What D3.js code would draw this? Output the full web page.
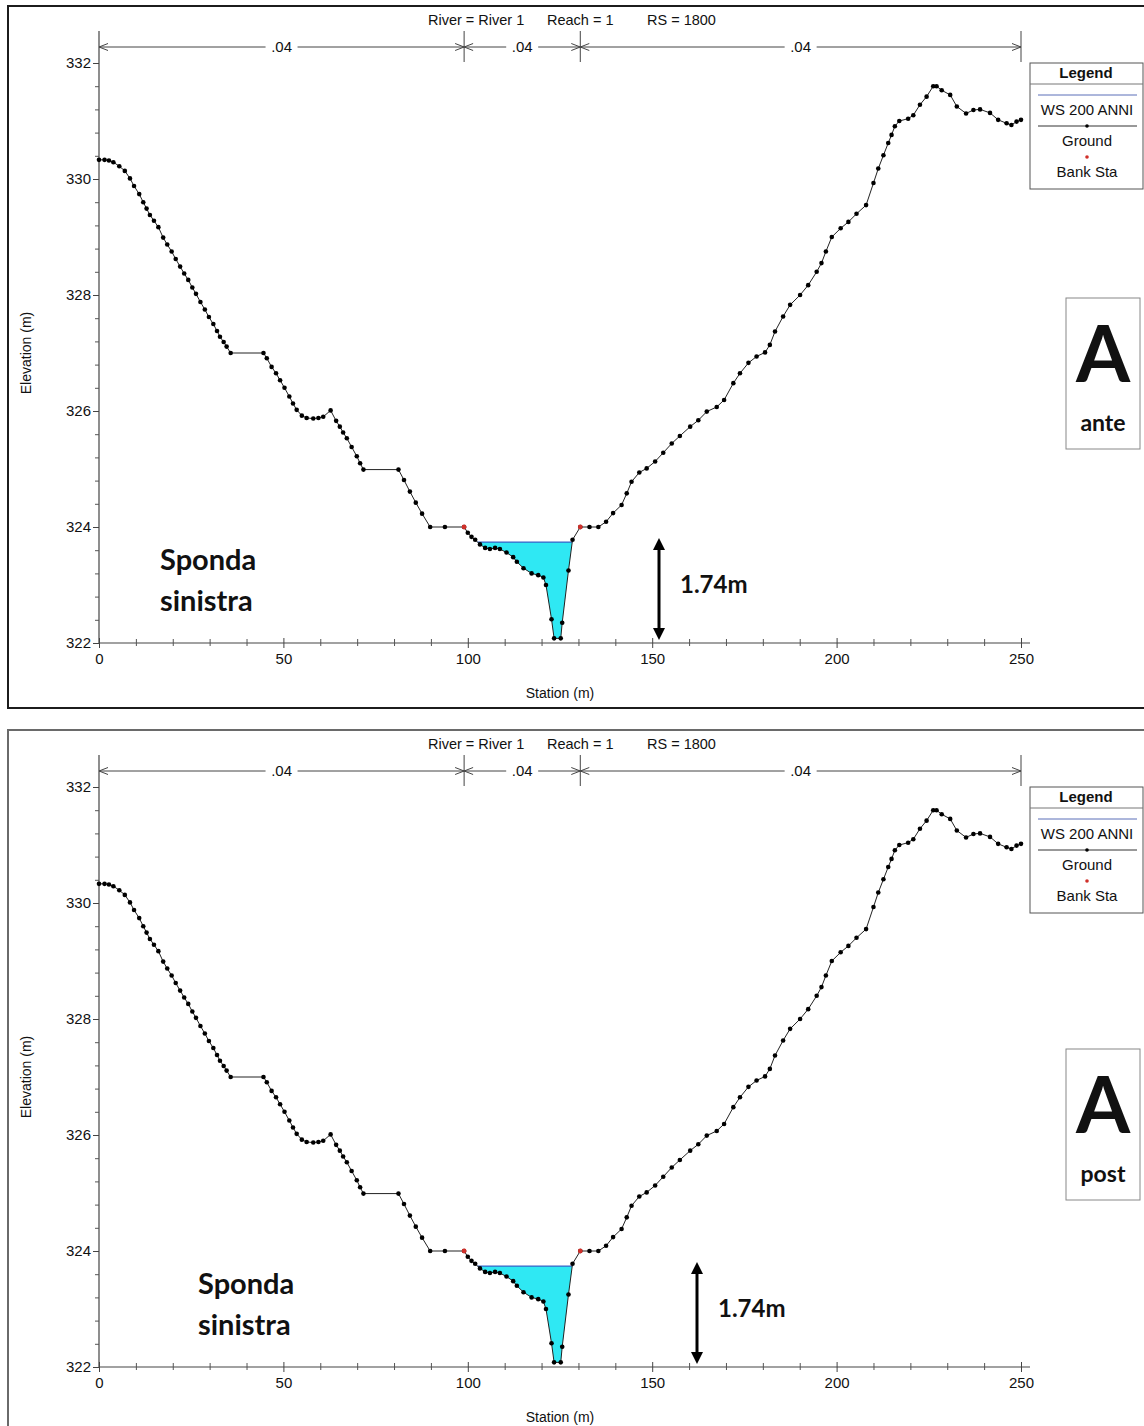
<!DOCTYPE html>
<html>
<head>
<meta charset="utf-8">
<script src="https://cdn.jsdelivr.net/npm/d3@7"></script>
<style>
  body { margin: 0; background: #fff; }
  svg { display: block; }
  text { font-family: "Liberation Sans", Arial, sans-serif; fill: #111; }
  .big { font-family: Lato, "Open Sans", sans-serif; font-weight: 700; }
</style>
</head>
<body>
<script>
// ground profile (station m, elevation m)
const groundStation = [0,1.5,2.7,3.9,5.5,7.0,8.4,9.5,10.9,12.0,12.9,13.8,14.9,16.1,17.4,18.5,19.7,20.8,22.0,23.1,
  24.2,25.3,26.3,27.5,28.7,29.8,31.0,32.0,32.8,33.8,34.6,35.7,44.6,45.5,46.8,48.0,49.1,50.3,51.6,52.6,
  53.6,55.0,56.3,58.1,59.5,60.8,62.8,64.3,65.3,66.2,67.2,68.5,69.9,70.8,71.7,81.2,82.7,84.3,85.9,87.6,
  89.8,93.8,99.0,100.0,101.0,102.0,103.3,104.7,106.0,107.4,108.7,110.5,112.3,113.3,115.1,117.3,119.1,120.5,121.2,122.7,
  123.4,125.2,125.6,127.3,128.4,130.5,133.0,135.4,137.5,139.4,141.7,143.1,144.4,146.5,148.5,150.8,153.0,155.3,157.5,160.3,
  162.5,164.8,167.5,169.5,172.0,173.8,176.1,178.3,180.6,181.9,183.3,185.5,187.4,190.1,192.3,194.6,195.9,197.1,198.7,201.1,
  203.2,205.4,208.0,210.0,211.3,212.7,214.0,214.9,215.8,217.0,219.4,220.8,222.6,224.4,226.2,227.1,228.5,230.8,232.6,235.1,
  237.1,238.9,241.6,243.8,246.1,247.4,248.8,250.0];
const groundElev = [330.33,330.33,330.32,330.29,330.22,330.14,330.01,329.88,329.74,329.60,329.49,329.38,329.28,329.17,328.99,328.87,328.75,328.62,328.49,328.37,
  328.26,328.13,328.02,327.88,327.75,327.62,327.50,327.38,327.28,327.19,327.11,327.00,327.00,326.91,326.76,326.65,326.53,326.40,326.25,326.13,
  326.02,325.92,325.88,325.87,325.88,325.90,326.01,325.83,325.73,325.63,325.53,325.38,325.22,325.10,324.99,324.99,324.81,324.61,324.42,324.23,
  324.00,324.00,324.00,323.90,323.83,323.78,323.70,323.64,323.62,323.64,323.62,323.56,323.48,323.40,323.29,323.20,323.17,323.13,323.00,322.41,
  322.08,322.08,322.35,323.25,323.78,324.00,324.00,324.00,324.09,324.24,324.38,324.58,324.78,324.94,325.01,325.13,325.28,325.44,325.57,325.73,
  325.84,325.99,326.07,326.19,326.48,326.65,326.83,326.94,327.01,327.14,327.37,327.63,327.83,328.00,328.17,328.40,328.55,328.75,329.00,329.15,
  329.26,329.40,329.55,329.93,330.18,330.41,330.62,330.76,330.91,331.00,331.04,331.10,331.28,331.42,331.60,331.60,331.53,331.45,331.25,331.13,
  331.19,331.20,331.14,331.02,330.96,330.93,330.99,331.02];

const bankStations = [99.0, 130.5];
const bankElev = [324.0, 324.0];
const wsElev = 323.74;            // WS 200 ANNI
const nBreaks = [0, 99.0, 130.5, 250];
const nValues = [".04", ".04", ".04"];
const xMajor = [0, 50, 100, 150, 200, 250];
const xMinor = d3.range(0, 251, 10);
const yMajor = [322, 324, 326, 328, 330, 332];
const yMinor = [322.4,322.8,323.2,323.6,324.4,324.8,325.2,325.6,326.4,326.8,327.2,327.6,
  328.4,328.8,329.2,329.6,330.4,330.8,331.2,331.6];
const legendItems = ["WS 200 ANNI", "Ground", "Bank Sta"];
const panelTags = ["ante", "post"];
const depthLabel = "1.74m";

// layout of the two stacked pictures
const layout = [
  { dy: 0,   tag: 0, arrowX: 659, boxY: 298, sponX: 160, border: "#1c1c1c" },
  { dy: 724, tag: 1, arrowX: 697, boxY: 1049, sponX: 198, border: "#6a6a6a" }
];

const W = 1144, H = 1426;
const svg = d3.select("body").append("svg").attr("width", W).attr("height", H);

const x = d3.scaleLinear().domain([0, 250]).range([99, 1021]);

// wetted polygon below water surface, between banks
function waterPolygon(lo, hi) {
  const pts = [];
  for (let i = 0; i < groundStation.length - 1; i++) {
    const s0 = groundStation[i], s1 = groundStation[i + 1];
    const e0 = groundElev[i], e1 = groundElev[i + 1];
    if (s0 < lo || s1 > hi) continue;
    if (e0 <= wsElev) pts.push([s0, e0]);
    if ((e0 - wsElev) * (e1 - wsElev) < 0) {
      const t = (wsElev - e0) / (e1 - e0);
      pts.push([s0 + t * (s1 - s0), wsElev]);
    }
  }
  return pts;
}
const wet = waterPolygon(bankStations[0], bankStations[1]);

layout.forEach(function (p) {
  const dy = p.dy;
  const y = d3.scaleLinear().domain([322, 332]).range([643 + dy, 63 + dy]);
  const g = svg.append("g");

  // frame
  g.append("rect")
    .attr("x", 8).attr("y", 6 + dy)
    .attr("width", W + 20).attr("height", 702)
    .attr("fill", "none").attr("stroke", p.border).attr("stroke-width", 2);

  // header
  const head = [["River = River 1", 428], ["Reach = 1", 547], ["RS = 1800", 647]];
  g.selectAll(".head").data(head).enter().append("text")
    .attr("x", function (d) { return d[1]; })
    .attr("y", 25 + dy)
    .attr("font-size", 14.5)
    .text(function (d) { return d[0]; });

  // manning n bar
  const nY = 47 + dy;
  for (let i = 0; i < nValues.length; i++) {
    const a = x(nBreaks[i]), b = x(nBreaks[i + 1]);
    const mid = (a + b) / 2;
    const half = 16;
    g.append("line").attr("x1", a).attr("x2", mid - half).attr("y1", nY).attr("y2", nY)
      .attr("stroke", "#444").attr("stroke-width", 1);
    g.append("line").attr("x1", mid + half).attr("x2", b).attr("y1", nY).attr("y2", nY)
      .attr("stroke", "#444").attr("stroke-width", 1);
    g.append("text").attr("x", mid).attr("y", nY + 5).attr("text-anchor", "middle")
      .attr("font-size", 15).text(nValues[i]);
    // arrow heads pointing at each break
    [[a, 1], [b, -1]].forEach(function (e) {
      g.append("path")
        .attr("d", "M" + (e[0] + e[1] * 9) + "," + (nY - 3.5) + "L" + e[0] + "," + nY + "L" + (e[0] + e[1] * 9) + "," + (nY + 3.5))
        .attr("fill", "none").attr("stroke", "#444").attr("stroke-width", 1);
    });
  }
  nBreaks.slice(1).forEach(function (s) {
    g.append("line").attr("x1", x(s)).attr("x2", x(s)).attr("y1", 31 + dy).attr("y2", 62 + dy)
      .attr("stroke", "#444").attr("stroke-width", 1);
  });

  // axes
  g.append("line").attr("x1", 99).attr("x2", 99).attr("y1", 31 + dy).attr("y2", 643 + dy)
    .attr("stroke", "#444").attr("stroke-width", 1.2);
  g.append("line").attr("x1", 99).attr("x2", 1030).attr("y1", 643 + dy).attr("y2", 643 + dy)
    .attr("stroke", "#444").attr("stroke-width", 1.2);

  const yAx = g.append("g").attr("transform", "translate(99,0)")
    .call(d3.axisLeft(y).tickValues(yMajor).tickSize(6).tickPadding(2).tickFormat(d3.format("d")));
  yAx.select(".domain").remove();
  yAx.selectAll("text").attr("font-size", 15).attr("font-family", "Liberation Sans, Arial, sans-serif").attr("fill", "#222");
  yAx.selectAll("line").attr("stroke", "#444");
  const yMin = g.append("g").attr("transform", "translate(99,0)")
    .call(d3.axisLeft(y).tickValues(yMinor).tickSize(4).tickFormat(""));
  yMin.select(".domain").remove();
  yMin.selectAll("line").attr("stroke", "#555");

  const xAx = g.append("g").attr("transform", "translate(0," + (643 + dy) + ")")
    .call(d3.axisBottom(x).tickValues(xMajor).tickSize(5).tickPadding(5));
  xAx.select(".domain").remove();
  xAx.selectAll("line").attr("y1", -5).attr("stroke", "#444");
  xAx.selectAll("text").attr("font-size", 15).attr("font-family", "Liberation Sans, Arial, sans-serif").attr("fill", "#222");
  const xMin = g.append("g").attr("transform", "translate(0," + (643 + dy) + ")")
    .call(d3.axisBottom(x).tickValues(xMinor.filter(function (v) { return v % 50 !== 0; })).tickSize(3).tickFormat(""));
  xMin.select(".domain").remove();
  xMin.selectAll("line").attr("y1", -4).attr("stroke", "#555");

  g.append("text").attr("x", 560).attr("y", 698 + dy).attr("text-anchor", "middle")
    .attr("font-size", 14).text("Station (m)");
  g.append("text").attr("transform", "translate(31," + (353 + dy) + ") rotate(-90)")
    .attr("text-anchor", "middle").attr("font-size", 14).text("Elevation (m)");

  // water
  g.append("path")
    .attr("d", d3.line().x(function (d) { return x(d[0]); }).y(function (d) { return y(d[1]); })(wet) + "Z")
    .attr("fill", "#2fe8f3").attr("stroke", "none");
  g.append("line")
    .attr("x1", x(wet[0][0])).attr("x2", x(wet[wet.length - 1][0]))
    .attr("y1", y(wsElev)).attr("y2", y(wsElev))
    .attr("stroke", "#3a62c8").attr("stroke-width", 1.2);

  // ground
  const pts = groundStation.map(function (s, i) { return [s, groundElev[i]]; });
  g.append("path")
    .attr("d", d3.line().x(function (d) { return x(d[0]); }).y(function (d) { return y(d[1]); })(pts))
    .attr("fill", "none").attr("stroke", "#222").attr("stroke-width", 1);
  g.selectAll(".gp").data(pts).enter().append("circle")
    .attr("cx", function (d) { return x(d[0]); })
    .attr("cy", function (d) { return y(d[1]); })
    .attr("r", 2.3).attr("fill", "#000");
  g.selectAll(".bk").data(bankStations).enter().append("circle")
    .attr("cx", function (d) { return x(d); })
    .attr("cy", function (d, i) { return y(bankElev[i]); })
    .attr("r", 2.4).attr("fill", "#d0302a");

  // legend
  const lg = g.append("g").attr("transform", "translate(1030," + (63 + dy) + ")");
  lg.append("rect").attr("width", 113).attr("height", 126)
    .attr("fill", "#fff").attr("stroke", "#555").attr("stroke-width", 1);
  lg.append("text").attr("x", 56).attr("y", 15).attr("text-anchor", "middle")
    .attr("font-size", 15).attr("font-weight", 700).text("Legend");
  lg.append("line").attr("x1", 0).attr("x2", 113).attr("y1", 21).attr("y2", 21).attr("stroke", "#777");
  lg.append("line").attr("x1", 8).attr("x2", 107).attr("y1", 32).attr("y2", 32)
    .attr("stroke", "#5b6fb8").attr("stroke-width", 1);
  lg.append("line").attr("x1", 8).attr("x2", 107).attr("y1", 63).attr("y2", 63)
    .attr("stroke", "#333").attr("stroke-width", 1);
  lg.append("circle").attr("cx", 57).attr("cy", 63).attr("r", 1.8).attr("fill", "#000");
  lg.append("circle").attr("cx", 57).attr("cy", 94).attr("r", 1.8).attr("fill", "#d0302a");
  lg.selectAll(".li").data(legendItems).enter().append("text")
    .attr("x", 57).attr("y", function (d, i) { return 52 + i * 31; })
    .attr("text-anchor", "middle").attr("font-size", 15).text(function (d) { return d; });

  // depth arrow
  const ax = p.arrowX;
  g.append("line").attr("x1", ax).attr("x2", ax).attr("y1", 548 + dy).attr("y2", 630 + dy)
    .attr("stroke", "#000").attr("stroke-width", 3);
  g.append("path").attr("d", "M" + (ax - 6) + "," + (550 + dy) + "L" + ax + "," + (538 + dy) + "L" + (ax + 6) + "," + (550 + dy) + "Z")
    .attr("fill", "#000");
  g.append("path").attr("d", "M" + (ax - 6) + "," + (628 + dy) + "L" + ax + "," + (640 + dy) + "L" + (ax + 6) + "," + (628 + dy) + "Z")
    .attr("fill", "#000");
  g.append("text").attr("class", "big").attr("x", ax + 21).attr("y", 593 + dy)
    .attr("font-size", 24).text(depthLabel);

  // bank label
  g.append("text").attr("class", "big").attr("x", p.sponX).attr("y", 570 + dy)
    .attr("font-size", 29).text("Sponda");
  g.append("text").attr("class", "big").attr("x", p.sponX).attr("y", 611 + dy)
    .attr("font-size", 29).text("sinistra");

  // A tag box
  const bx = g.append("g").attr("transform", "translate(1066," + p.boxY + ")");
  bx.append("rect").attr("width", 74).attr("height", 151)
    .attr("fill", "#fff").attr("stroke", "#888").attr("stroke-width", 1);
  bx.append("text").attr("class", "big").attr("x", 37).attr("y", 84)
    .attr("text-anchor", "middle").attr("font-size", 78).text("A");
  bx.append("text").attr("class", "big").attr("x", 37).attr("y", 133)
    .attr("text-anchor", "middle").attr("font-size", 23).text(panelTags[p.tag]);
});
</script>
</body>
</html>
